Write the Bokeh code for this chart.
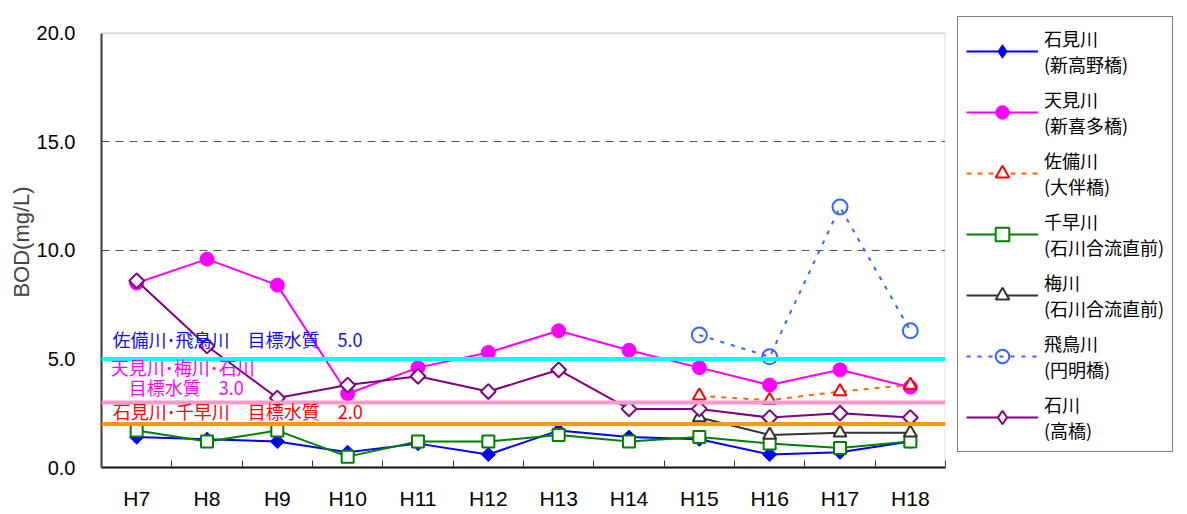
import math
from bokeh.plotting import figure
from bokeh.layouts import row
from bokeh.models import (Span, Label, Legend, LegendItem, FixedTicker, Range1d, NumeralTickFormatter,
                          BoxAnnotation)
from bokeh.embed import file_html
from bokeh.resources import INLINE

years = ["H7", "H8", "H9", "H10", "H11", "H12", "H13", "H14", "H15", "H16", "H17", "H18"]
nan = float("nan")

ishimi = [1.4, 1.3, 1.2, 0.7, 1.1, 0.6, 1.7, 1.4, 1.3, 0.6, 0.7, 1.2]
amami = [8.5, 9.6, 8.4, 3.4, 4.6, 5.3, 6.3, 5.4, 4.6, 3.8, 4.5, 3.7]
sabi = [nan, nan, nan, nan, nan, nan, nan, nan, 3.3, 3.1, 3.5, 3.8]
chihaya = [1.7, 1.2, 1.7, 0.5, 1.2, 1.2, 1.5, 1.2, 1.4, 1.1, 0.9, 1.2]
ume = [nan, nan, nan, nan, nan, nan, nan, nan, 2.3, 1.5, 1.6, 1.6]
asuka = [nan, nan, nan, nan, nan, nan, nan, nan, 6.1, 5.1, 12.0, 6.3]
ishikawa = [8.6, 5.6, 3.2, 3.8, 4.2, 3.5, 4.5, 2.7, 2.7, 2.3, 2.5, 2.3]

series_names = ["石見川\n(新高野橋)", "天見川\n(新喜多橋)", "佐備川\n(大伴橋)", "千早川\n(石川合流直前)",
                "梅川\n(石川合流直前)", "飛鳥川\n(円明橋)", "石川\n(高橋)"]

targets = [5.0, 3.0, 2.0]
target_texts = ["佐備川･飛鳥川　目標水質　5.0", "天見川･梅川･石川", "　目標水質　3.0", "石見川･千早川　目標水質　2.0"]

y_ticks = [0, 5, 10, 15, 20]
y_max = 20

xs = list(range(len(years)))

H = 512
TOP = 16          # frame top (legend top)
AXIS_TOP = 33     # where the value 20 sits
BOTTOM = 41
frame_h = H - TOP - BOTTOM
y_end = y_max * frame_h / (H - BOTTOM - AXIS_TOP)

p = figure(width=956, height=H, x_range=Range1d(-0.5, len(years) - 0.5), y_range=Range1d(0, y_end),
           output_backend="svg", toolbar_location=None,
           min_border_left=101, min_border_right=11, min_border_top=TOP, min_border_bottom=BOTTOM)

p.outline_line_color = None
p.background_fill_color = "white"

# axes
p.xaxis.ticker = FixedTicker(ticks=xs, minor_ticks=[i - 0.5 for i in range(len(years) + 1)])
p.xaxis.major_label_overrides = {i: y for i, y in enumerate(years)}
p.xaxis.major_tick_in = 0
p.xaxis.major_tick_out = 0
p.xaxis.minor_tick_in = 7
p.xaxis.minor_tick_out = 0
p.xaxis.minor_tick_line_color = "#333333"
p.xaxis.minor_tick_line_width = 1
p.xaxis.axis_line_color = "black"
p.xaxis.axis_line_width = 2
p.xaxis.major_label_text_font = "Liberation Sans"
p.xaxis.major_label_text_font_size = "21px"
p.xaxis.major_label_text_color = "black"
p.xaxis.major_label_standoff = 19

p.yaxis.bounds = (0, y_max)
p.yaxis.ticker = FixedTicker(ticks=y_ticks)
p.yaxis.formatter = NumeralTickFormatter(format="0.0")
p.yaxis.major_tick_in = 0
p.yaxis.major_tick_out = 0
p.yaxis.minor_tick_line_color = None
p.yaxis.axis_line_color = "#333333"
p.yaxis.axis_line_width = 2
p.yaxis.major_label_text_font = "Liberation Sans"
p.yaxis.major_label_text_font_size = "20px"
p.yaxis.major_label_text_color = "black"
p.yaxis.major_label_standoff = 26
p.yaxis.axis_label = "BOD(mg/L)"
p.yaxis.axis_label_text_font = "Liberation Sans"
p.yaxis.axis_label_text_font_style = "normal"
p.yaxis.axis_label_text_font_size = "22px"
p.yaxis.axis_label_standoff = 0

p.xgrid.grid_line_color = None
p.ygrid.ticker = FixedTicker(ticks=[5, 10, 15])
p.ygrid.grid_line_color = "#555555"
p.ygrid.grid_line_dash = "8 6"
p.ygrid.grid_line_width = 1

# plot-area border (top and right show; left/bottom are covered by the axes)
p.add_layout(BoxAnnotation(left=-0.5, right=len(years) - 0.5, bottom=0, top=y_max,
                           fill_color=None, fill_alpha=0, line_color="#8c8c8c", line_width=2))

# legend figure (no title, no axes; its renderers sit outside its ranges)
p2 = figure(width=229, height=H, output_backend="svg", toolbar_location=None, title=None,
            x_axis_location=None, y_axis_location=None,
            x_range=Range1d(1000, 1001), y_range=Range1d(1000, 1001),
            min_border_left=1, min_border_right=0, min_border_top=TOP, min_border_bottom=BOTTOM)
p2.grid.grid_line_color = None
p2.outline_line_color = None

items = []

def add_series(ys, name, line_color, marker, size, line_dash="solid", mcolor=None, fill="white",
               fill_alpha=1.0, mlw=2, angle=0.0, legend_marker=None):
    mcolor = mcolor or line_color
    kw_line = dict(line_color=line_color, line_width=2, line_dash=line_dash)
    kw_mark = dict(line_color=mcolor, fill_color=fill, fill_alpha=fill_alpha, line_width=mlw)
    p.line(xs, ys, **kw_line)
    p.scatter(xs, ys, marker=marker, size=size, angle=angle, **kw_mark)
    lr = p2.line(xs, ys, **kw_line)
    sr = p2.scatter(xs, ys, marker=legend_marker or marker, size=size, **kw_mark)
    items.append(LegendItem(label=name, renderers=[lr, sr]))

add_series(ishimi, series_names[0], "#0000FF", "square", 10, fill="#0000FF", mlw=1,
           angle=math.pi / 4, legend_marker="diamond")
add_series(amami, series_names[1], "#FF00FF", "circle", 14, fill="#FF00FF", mlw=1)
add_series(sabi, series_names[2], "#FF6600", "triangle", 13, line_dash="5 6", mcolor="#FF0000")
add_series(chihaya, series_names[3], "#008000", "square", 12)
add_series(ume, series_names[4], "#333333", "triangle", 13)
add_series(asuka, series_names[5], "#3366FF", "circle", 15, line_dash="4 7", fill_alpha=0.0)
add_series(ishikawa, series_names[6], "#800080", "square", 10.5,
           angle=math.pi / 4, legend_marker="diamond")

# target lines
for v, c in zip(targets, ["#00FFFF", "#FF99CC", "#FF9900"]):
    p.add_layout(Span(location=v, dimension="width", line_color=c, line_width=4))

font = "Noto Sans CJK JP"
p.add_layout(Label(x=-0.345, y=5.9, text=target_texts[0], text_baseline="middle", text_font=font,
                   text_font_size="18px", text_color="#1010E0"))
p.add_layout(Label(x=-0.37, y=4.62, text=target_texts[1], text_baseline="middle", text_font=font,
                   text_font_size="18px", text_color="#FF00FF"))
p.add_layout(Label(x=-0.37, y=3.7, text=target_texts[2], text_baseline="middle", text_font=font,
                   text_font_size="18px", text_color="#FF00FF"))
p.add_layout(Label(x=-0.34, y=2.6, text=target_texts[3], text_baseline="middle", text_font=font,
                   text_font_size="18px", text_color="#FF0000"))

legend = Legend(items=items, location="top_left", orientation="vertical",
                label_text_font=font, label_text_font_size="18px", label_text_color="black",
                label_text_line_height=1.0,
                glyph_width=72, glyph_height=34, label_standoff=6, spacing=9, padding=8,
                border_line_color="black", border_line_width=1, background_fill_color="white",
                background_fill_alpha=1.0, margin=0)
p2.add_layout(legend, "center")

layout = row(p, p2, spacing=0)
open("out.html", "w").write(file_html(layout, INLINE))
